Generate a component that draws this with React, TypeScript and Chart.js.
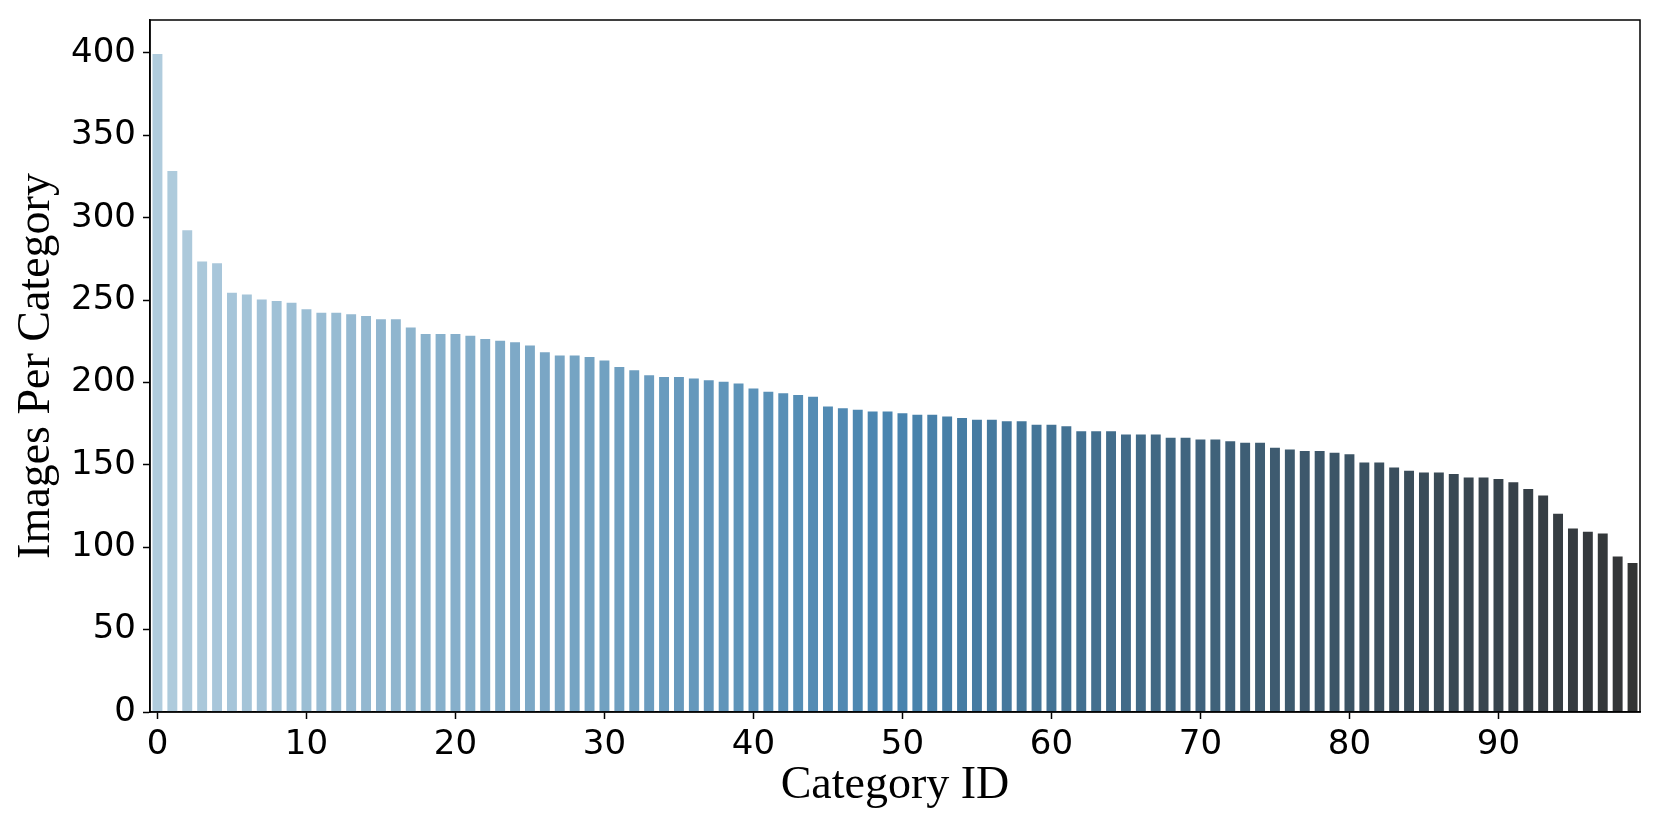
import React, { useEffect, useRef } from "react";
import { Chart, registerables } from "chart.js";

Chart.register(...registerables);

const categories: string[] = Array.from({ length: 100 }, (_, i) => String(i));

const imagesPerCategory: number[] = [
  400, 329, 293, 274, 273, 255, 254, 251, 250, 249,
  245, 243, 243, 242, 241, 239, 239, 234, 230, 230,
  230, 229, 227, 226, 225, 223, 219, 217, 217, 216,
  214, 210, 208, 205, 204, 204, 203, 202, 201, 200,
  197, 195, 194, 193, 192, 186, 185, 184, 183, 183,
  182, 181, 181, 180, 179, 178, 178, 177, 177, 175,
  175, 174, 171, 171, 171, 169, 169, 169, 167, 167,
  166, 166, 165, 164, 164, 161, 160, 159, 159, 158,
  157, 152, 152, 149, 147, 146, 146, 145, 143, 143,
  142, 140, 136, 132, 121, 112, 110, 109, 95, 91,
];

const yTickValues: number[] = [0, 50, 100, 150, 200, 250, 300, 350, 400];
const xTickIndices: number[] = [0, 10, 20, 30, 40, 50, 60, 70, 80, 90];

// seaborn "Blues_d" anchors (Blues at 1/3, Blues at 2/3, #333333)
const paletteAnchors: number[][] = [
  [0.671, 0.814, 0.9],
  [0.216, 0.53, 0.754],
  [0.2, 0.2, 0.2],
];

function rgbToHls(r: number, g: number, b: number) {
  const mx = Math.max(r, g, b), mn = Math.min(r, g, b);
  const l = (mx + mn) / 2;
  if (mx === mn) return [0, l, 0];
  const d = mx - mn;
  const s = l <= 0.5 ? d / (mx + mn) : d / (2 - mx - mn);
  let h: number;
  if (mx === r) h = ((g - b) / d) % 6;
  else if (mx === g) h = (b - r) / d + 2;
  else h = (r - g) / d + 4;
  h = h / 6;
  if (h < 0) h += 1;
  return [h, l, s];
}
function hlsToRgb(h: number, l: number, s: number) {
  const c = (1 - Math.abs(2 * l - 1)) * s;
  const hp = h * 6;
  const x = c * (1 - Math.abs((hp % 2) - 1));
  let r = 0, g = 0, b = 0;
  if (hp < 1) [r, g, b] = [c, x, 0];
  else if (hp < 2) [r, g, b] = [x, c, 0];
  else if (hp < 3) [r, g, b] = [0, c, x];
  else if (hp < 4) [r, g, b] = [0, x, c];
  else if (hp < 5) [r, g, b] = [x, 0, c];
  else [r, g, b] = [c, 0, x];
  const m = l - c / 2;
  return [r + m, g + m, b + m];
}

function barColor(i: number, n: number): string {
  const t = (i + 1) / (n + 1);
  const seg = t < 0.5 ? 0 : 1;
  const lt = (t - seg * 0.5) / 0.5;
  const a = paletteAnchors[seg], b = paletteAnchors[seg + 1];
  const rgb = a.map((v, k) => v + (b[k] - v) * lt);
  const [h, l, s] = rgbToHls(rgb[0], rgb[1], rgb[2]);
  const out = hlsToRgb(h, l, s * 0.75);
  return `rgb(${out.map((v) => Math.round(v * 255)).join(",")})`;
}

const framePlugin = {
  id: "frame",
  afterDraw(chart: any) {
    const { ctx, chartArea } = chart;
    ctx.save();
    ctx.strokeStyle = "#000";
    ctx.lineWidth = 1.5;
    ctx.strokeRect(chartArea.left, chartArea.top, chartArea.right - chartArea.left, chartArea.bottom - chartArea.top);
    ctx.restore();
  },
};

export default function App() {
  const ref = useRef<HTMLCanvasElement | null>(null);
  useEffect(() => {
    if (!ref.current) return;
    const colors = imagesPerCategory.map((_, i) => barColor(i, imagesPerCategory.length));
    const chart = new Chart(ref.current, {
      type: "bar",
      data: {
        labels: categories,
        datasets: [
          {
            data: imagesPerCategory,
            backgroundColor: colors,
            borderColor: "rgba(255,255,255,0.55)",
            borderWidth: 1,
            barPercentage: 0.8,
            categoryPercentage: 1.0,
          },
        ],
      },
      options: {
        animation: false,
        responsive: false,
        maintainAspectRatio: false,
        layout: { padding: { top: 20, right: 21, left: 0, bottom: 0 } },
        plugins: { legend: { display: false }, tooltip: { enabled: false } },
        scales: {
          x: {
            type: "category",
            offset: true,
            afterFit: (s: any) => { s.height = 118; s.paddingLeft = 0; s.paddingRight = 0; },
            afterBuildTicks: (axis: any) => {
              axis.ticks = xTickIndices.map((v) => ({ value: v }));
            },
            grid: { display: true, offset: false, drawOnChartArea: false, drawTicks: true, tickLength: 7, tickColor: "#000", tickWidth: 1.5 },
            border: { display: true, color: "#000", width: 1.5 },
            ticks: {
              autoSkip: false,
              maxRotation: 0,
              padding: 6,
              color: "#000",
              font: { family: "DejaVu Sans", size: 34 },
              callback: function (this: any, value: any) { return this.getLabelForValue(value); },
            },
            title: {
              display: true,
              text: "Category ID",
              color: "#000",
              font: { family: "Liberation Serif", size: 46, lineHeight: 1 },
              padding: { top: 0, bottom: 21 },
            },
          },
          y: {
            type: "linear",
            min: 0,
            max: 420,
            afterFit: (s: any) => { s.width = 150; s.paddingTop = 0; s.paddingBottom = 0; },
            afterBuildTicks: (axis: any) => {
              axis.ticks = yTickValues.map((v) => ({ value: v }));
            },
            grid: { display: true, drawOnChartArea: false, drawTicks: true, tickLength: 7, tickColor: "#000", tickWidth: 1.5 },
            border: { display: true, color: "#000", width: 1.5 },
            ticks: {
              padding: 7,
              color: "#000",
              font: { family: "DejaVu Sans", size: 34 },
            },
            title: {
              display: true,
              text: "Images Per Category",
              color: "#000",
              font: { family: "Liberation Serif", size: 46, lineHeight: 1 },
              padding: { top: 14, bottom: 0 },
            },
          },
        },
      },
      plugins: [framePlugin],
    });
    return () => chart.destroy();
  }, []);
  return (
    <div style={{ position: "fixed", left: 0, top: 0, width: 1661, height: 830, background: "#fff" }}>
      <canvas ref={ref} width={1661} height={830} style={{ display: "block" }} />
    </div>
  );
}
